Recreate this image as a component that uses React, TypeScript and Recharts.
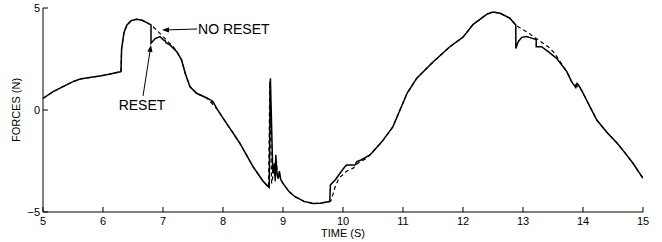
import React from 'react';
import { LineChart, Line, XAxis, YAxis, ReferenceLine } from 'recharts';

// solid trace: force with reset
const resetTime = [
  5.0, 5.17, 5.35, 5.5, 5.62, 5.8, 5.95, 6.1, 6.27, 6.3, 6.31, 6.35, 6.4, 6.47, 6.56, 6.65, 6.73, 6.8,
  6.8, 6.87, 6.95, 7.0, 7.04, 7.05, 7.12, 7.23, 7.31, 7.37, 7.45, 7.56, 7.73, 7.8, 7.82, 7.83, 7.9,
  8.0, 8.15, 8.28, 8.4, 8.5, 8.6, 8.67, 8.77, 8.79, 8.83, 8.86, 8.87, 8.88, 8.9, 8.92, 8.94, 8.96,
  9.0, 9.1, 9.2, 9.35, 9.5, 9.62, 9.78, 9.79, 9.87, 9.95, 10.03, 10.06, 10.2, 10.23, 10.3, 10.45,
  10.65, 10.83, 10.95, 11.07, 11.23, 11.5, 11.78, 12.0, 12.17, 12.4, 12.5, 12.62, 12.78, 12.88,
  12.88, 12.92, 12.98, 13.06, 13.17, 13.22, 13.22, 13.31, 13.42, 13.56, 13.73, 13.81, 13.88, 13.9,
  13.93, 13.98, 14.1, 14.23, 14.4, 14.57, 14.7, 14.83, 15.0,
];
const resetForce = [
  0.57, 0.9, 1.17, 1.39, 1.52, 1.6, 1.67, 1.75, 1.86, 1.88, 3.0, 3.8, 4.17, 4.38, 4.45, 4.4, 4.28, 4.17,
  3.27, 3.5, 3.6, 3.45, 3.38, 3.3, 3.18, 2.86, 2.45, 1.8, 1.14, 0.82, 0.59, 0.48, 0.38, 0.42, 0.05,
  -0.4, -1.05, -1.63, -2.25, -2.78, -3.2, -3.5, -3.8, 1.56, -3.1, -2.6, -3.4, -2.2, -3.1, -3.35, -3.0, -3.4,
  -3.6, -4.0, -4.25, -4.48, -4.58, -4.57, -4.49, -3.67, -3.43, -3.1, -2.78, -2.7, -2.7, -2.53, -2.45, -2.2,
  -1.55, -0.83, 0.0, 0.83, 1.56, 2.35, 3.1, 3.57, 4.2, 4.7, 4.8, 4.74, 4.5, 4.17,
  3.02, 3.35, 3.56, 3.6, 3.5, 3.45, 3.1, 3.1, 2.86, 2.53, 1.88, 1.39, 1.1, 1.3,
  1.2, 0.95, 0.25, -0.49, -1.1, -1.63, -2.1, -2.6, -3.35,
];

// dashed trace: force without reset
const noResetTime = [
  5.0, 5.17, 5.35, 5.5, 5.62, 5.8, 5.95, 6.1, 6.27, 6.3, 6.31, 6.35, 6.4, 6.47, 6.56, 6.65, 6.73, 6.8,
  6.9, 7.0, 7.1, 7.17, 7.23, 7.31, 7.37, 7.45, 7.56, 7.73, 7.9, 8.0, 8.15, 8.28, 8.4, 8.5, 8.6, 8.67,
  8.76, 8.78, 8.81, 8.85, 8.87, 8.89, 8.91, 8.94, 8.97, 9.0, 9.1, 9.2, 9.35, 9.5, 9.62, 9.8,
  9.87, 9.93, 10.06, 10.17, 10.25, 10.4, 10.45, 10.65, 10.83, 10.95, 11.07, 11.23, 11.5, 11.78, 12.0,
  12.17, 12.4, 12.5, 12.62, 12.78, 12.88, 12.92, 13.06, 13.22, 13.42, 13.53, 13.6, 13.73, 13.81,
  13.98, 14.1, 14.23, 14.4, 14.57, 14.7, 14.83, 15.0,
];
const noResetForce = [
  0.57, 0.9, 1.17, 1.39, 1.52, 1.6, 1.67, 1.75, 1.86, 1.88, 3.0, 3.8, 4.17, 4.38, 4.45, 4.4, 4.28, 4.17,
  3.9, 3.6, 3.3, 3.1, 2.86, 2.45, 1.8, 1.14, 0.82, 0.59, 0.05, -0.4, -1.05, -1.63, -2.25, -2.78, -3.2, -3.5,
  -3.8, 1.4, -3.6, -2.9, -3.5, -2.5, -3.4, -3.1, -3.45, -3.6, -4.0, -4.25, -4.48, -4.58, -4.57, -4.45,
  -3.76, -3.35, -3.0, -2.85, -2.6, -2.35, -2.2, -1.55, -0.83, 0.0, 0.83, 1.56, 2.35, 3.1, 3.57,
  4.2, 4.7, 4.8, 4.74, 4.5, 4.17, 4.08, 3.84, 3.51, 3.1, 2.78, 2.45, 1.88, 1.39,
  0.95, 0.25, -0.49, -1.1, -1.63, -2.1, -2.6, -3.35,
];

const xTicks = [5, 6, 7, 8, 9, 10, 11, 12, 13, 14, 15];
const yTicks = [-5, 0, 5];

const resetData = resetTime.map((t, i) => ({ t, f: resetForce[i] }));
const noResetData = noResetTime.map((t, i) => ({ t, f: noResetForce[i] }));

const FONT = '"Liberation Sans", Arial, Helvetica, sans-serif';
const TICK_LEN = 5;

const fmt = (v: number) => String(v).replace('-', '\u2212');

const BottomTick = ({ x, y, payload }: any) => (
  <g>
    <line x1={x} y1={y} x2={x} y2={y - TICK_LEN} stroke="#000" />
    <text x={x} y={y + 13} textAnchor="middle" fontSize={11} fontFamily={FONT} fill="#000">
      {fmt(payload.value)}
    </text>
  </g>
);

const TopTick = ({ x, y }: any) => (
  <line x1={x} y1={y} x2={x} y2={y + TICK_LEN} stroke="#000" />
);

const LeftTick = ({ x, y, payload }: any) => (
  <g>
    <line x1={x} y1={y} x2={x + TICK_LEN} y2={y} stroke="#000" />
    <text x={x - 3} y={y + 4} textAnchor="end" fontSize={11} fontFamily={FONT} fill="#000">
      {fmt(payload.value)}
    </text>
  </g>
);

const RightTick = ({ x, y }: any) => (
  <line x1={x} y1={y} x2={x - TICK_LEN} y2={y} stroke="#000" />
);

// arrow from (x1,y1) to (x2,y2) with text near the tail
const arrowShape = (text: string, dx: number, dy: number, anchor: string) => (props: any) => {
  const { x1, y1, x2, y2 } = props;
  const ang = Math.atan2(y2 - y1, x2 - x1);
  const len = 7;
  const w = 2.6;
  const bx = x2 - len * Math.cos(ang);
  const by = y2 - len * Math.sin(ang);
  const px = -Math.sin(ang) * w;
  const py = Math.cos(ang) * w;
  return (
    <g>
      <line x1={x1} y1={y1} x2={bx} y2={by} stroke="#000" strokeWidth={1} />
      <polygon points={`${x2},${y2} ${bx + px},${by + py} ${bx - px},${by - py}`} fill="#000" />
      <text x={x1 + dx} y={y1 + dy} textAnchor={anchor} fontSize={14} fontFamily={FONT} fill="#000">
        {text}
      </text>
    </g>
  );
};

const YLabel = () => (
  <text x={20} y={110} transform="rotate(-90 20 110)" textAnchor="middle" fontSize={11} fontFamily={FONT} fill="#000">
    FORCES (N)
  </text>
);

export default function App() {
  return (
    <div style={{ position: 'absolute', left: 0, top: 0, background: '#fff' }}>
      <LineChart width={662} height={242} margin={{ top: 8, right: 19, bottom: 0, left: 3 }}>
        <XAxis
          dataKey="t"
          type="number"
          domain={[5, 15]}
          ticks={xTicks}
          allowDataOverflow
          height={30}
          tickSize={0}
          tickMargin={0}
          tickLine={false}
          axisLine={{ stroke: '#000' }}
          tick={<BottomTick />}
          interval={0}
          label={{ value: 'TIME (S)', position: 'insideBottom', offset: 5, fontSize: 11, fontFamily: FONT, fill: '#000' }}
        />
        <XAxis
          xAxisId="top"
          orientation="top"
          dataKey="t"
          type="number"
          domain={[5, 15]}
          ticks={xTicks}
          height={0}
          tickSize={0}
          tickMargin={0}
          tickLine={false}
          axisLine={{ stroke: '#000' }}
          tick={<TopTick />}
          interval={0}
        />
        <YAxis
          type="number"
          domain={[-5, 5]}
          ticks={yTicks}
          allowDataOverflow
          width={40}
          tickSize={0}
          tickMargin={0}
          tickLine={false}
          axisLine={{ stroke: '#000' }}
          tick={<LeftTick />}
          interval={0}
          label={<YLabel />}
        />
        <YAxis
          yAxisId="r"
          orientation="right"
          type="number"
          domain={[-5, 5]}
          ticks={yTicks}
          width={0}
          tickSize={0}
          tickMargin={0}
          tickLine={false}
          axisLine={{ stroke: '#000' }}
          tick={<RightTick />}
          interval={0}
        />
        <Line
          data={noResetData}
          dataKey="f"
          type="linear"
          stroke="#000"
          strokeWidth={1.2}
          strokeDasharray="4 3"
          dot={false}
          activeDot={false}
          isAnimationActive={false}
        />
        <Line
          data={resetData}
          dataKey="f"
          type="linear"
          stroke="#000"
          strokeWidth={1.5}
          dot={false}
          activeDot={false}
          isAnimationActive={false}
        />
        <ReferenceLine
          segment={[{ x: 7.567, y: 3.97 }, { x: 6.983, y: 3.92 }]}
          ifOverflow="visible"
          shape={arrowShape('NO RESET', 1, 4.5, 'start')}
        />
        <ReferenceLine
          segment={[{ x: 6.667, y: 0.69 }, { x: 6.8, y: 3.19 }]}
          ifOverflow="visible"
          shape={arrowShape('RESET', -1, 14, 'middle')}
        />
      </LineChart>
    </div>
  );
}
